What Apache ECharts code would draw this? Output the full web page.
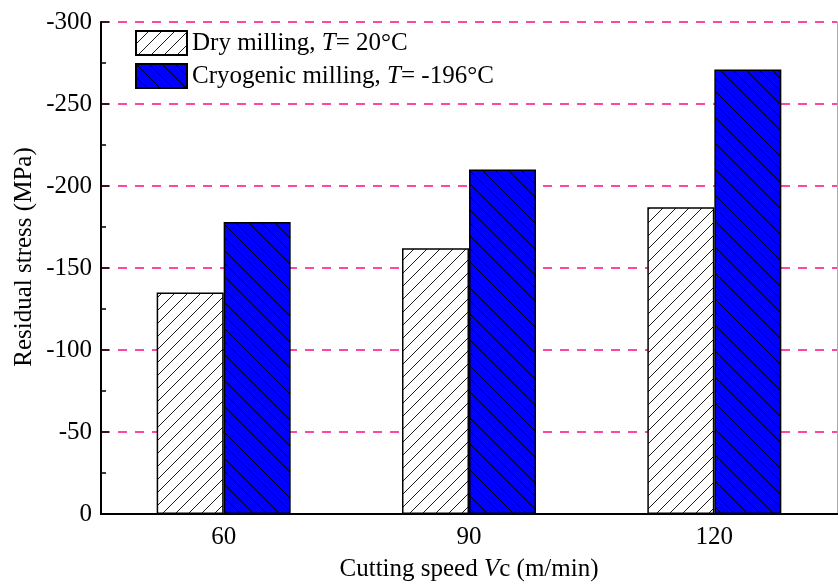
<!DOCTYPE html>
<html>
<head>
<meta charset="utf-8">
<script src="https://cdn.jsdelivr.net/npm/echarts@6/dist/echarts.min.js"></script>
<style>
html, body { margin: 0; padding: 0; background: #fff; }
#myChart { width: 838px; height: 587px; }
</style>
</head>
<body>
<div id="myChart"></div>
<script>
var categories = ['60', '90', '120'];
var seriesNames = ['Dry milling', 'Cryogenic milling'];
var dryValues = [-135, -162, -187];
var cryoValues = [-178, -210, -271];
var yTicks = [0, -50, -100, -150, -200, -250, -300];

var Chart = {};

// diagonal hatch tile, dir 1 = "/", dir -1 = "\"
Chart.makeHatch = function(bg, dir) {
	var s = 13;
	var c = document.createElement('canvas');
	c.width = s;
	c.height = s;
	var ctx = c.getContext('2d');
	ctx.fillStyle = bg;
	ctx.fillRect(0, 0, s, s);
	ctx.strokeStyle = '#000';
	ctx.lineWidth = 0.9;
	ctx.beginPath();
	if (dir > 0) {
		ctx.moveTo(-2, s + 2); ctx.lineTo(s + 2, -2);
		ctx.moveTo(-2, 2); ctx.lineTo(2, -2);
		ctx.moveTo(s - 2, s + 2); ctx.lineTo(s + 2, s - 2);
	} else {
		ctx.moveTo(-2, -2); ctx.lineTo(s + 2, s + 2);
		ctx.moveTo(s - 2, -2); ctx.lineTo(s + 2, 2);
		ctx.moveTo(-2, s - 2); ctx.lineTo(2, s + 2);
	}
	ctx.stroke();
	return c;
};

Chart.init = function() {
	var myChart = echarts.init(document.getElementById('myChart'));
	var font = '"Liberation Serif", "Times New Roman", serif';
	var fs = 25;
	var dryFill = { image: Chart.makeHatch('#ffffff', 1), repeat: 'repeat' };
	var cryoFill = { image: Chart.makeHatch('#0000ff', -1), repeat: 'repeat' };
	var italic = { fontFamily: font, fontSize: fs, fontStyle: 'italic', color: '#000' };

	var option = {
		animation: false,
		textStyle: { fontFamily: font },
		grid: { left: 101, right: 1, top: 22, bottom: 70 },
		legend: {
			orient: 'vertical',
			left: 135,
			top: 30,
			padding: 0,
			itemWidth: 51,
			itemHeight: 24,
			itemGap: 7,
			icon: 'rect',
			data: seriesNames,
			formatter: function(name) {
				if (name == seriesNames[0]) {
					return 'Dry milling, {i|T}= 20°C';
				}
				return 'Cryogenic milling, {i|T}= -196°C';
			},
			textStyle: {
				fontFamily: font,
				fontSize: fs,
				color: '#000',
				rich: { i: italic }
			}
		},
		xAxis: [{
			type: 'category',
			data: categories,
			name: 'Cutting speed {i|V}c (m/min)',
			nameLocation: 'middle',
			nameGap: 43,
			nameTextStyle: {
				fontFamily: font,
				fontSize: fs,
				color: '#000',
				rich: { i: italic }
			},
			axisLine: { lineStyle: { color: '#000', width: 2 } },
			axisTick: { show: false },
			axisLabel: { fontFamily: font, fontSize: fs, color: '#000', margin: 11 }
		}, {
			type: 'category',
			position: 'top',
			data: categories,
			axisLine: { lineStyle: { color: '#000', width: 2 } },
			axisTick: { show: false },
			axisLabel: { show: false }
		}],
		yAxis: [{
			type: 'value',
			min: -300,
			max: 0,
			interval: 50,
			inverse: true,
			name: 'Residual stress (MPa)',
			nameLocation: 'middle',
			nameGap: 64,
			nameMoveOverlap: false,
			nameTextStyle: { fontFamily: font, fontSize: fs, color: '#000', padding: [0, 0, 0, 22] },
			axisLine: { show: true, lineStyle: { color: '#000', width: 2 } },
			axisTick: { show: true, inside: true, length: 8, lineStyle: { color: '#000', width: 1.5 } },
			minorTick: { show: true, splitNumber: 2, length: 5, lineStyle: { color: '#000', width: 1.5 } },
			axisLabel: {
				fontFamily: font,
				fontSize: fs,
				color: '#000',
				margin: 9,
				formatter: function(v) {
					return yTicks.indexOf(v) >= 0 ? String(v) : '';
				}
			},
			splitLine: {
				show: true,
				lineStyle: { color: '#ff0a84', width: 1.6, type: [9, 8] }
			}
		}, {
			type: 'value',
			position: 'right',
			min: -300,
			max: 0,
			interval: 50,
			inverse: true,
			axisLine: { show: true, lineStyle: { color: '#aaaaaa', width: 1 } },
			axisTick: { show: false },
			axisLabel: { show: false },
			splitLine: { show: false }
		}],
		series: [{
			name: seriesNames[0],
			type: 'bar',
			data: dryValues,
			barWidth: 67,
			barGap: '0%',
			itemStyle: { color: dryFill, borderColor: '#000', borderWidth: 1.5 }
		}, {
			name: seriesNames[1],
			type: 'bar',
			data: cryoValues,
			barWidth: 67,
			barGap: '0%',
			itemStyle: { color: cryoFill, borderColor: '#000', borderWidth: 1.5 }
		}]
	};

	myChart.setOption(option);
};

Chart.init();
</script>
</body>
</html>
